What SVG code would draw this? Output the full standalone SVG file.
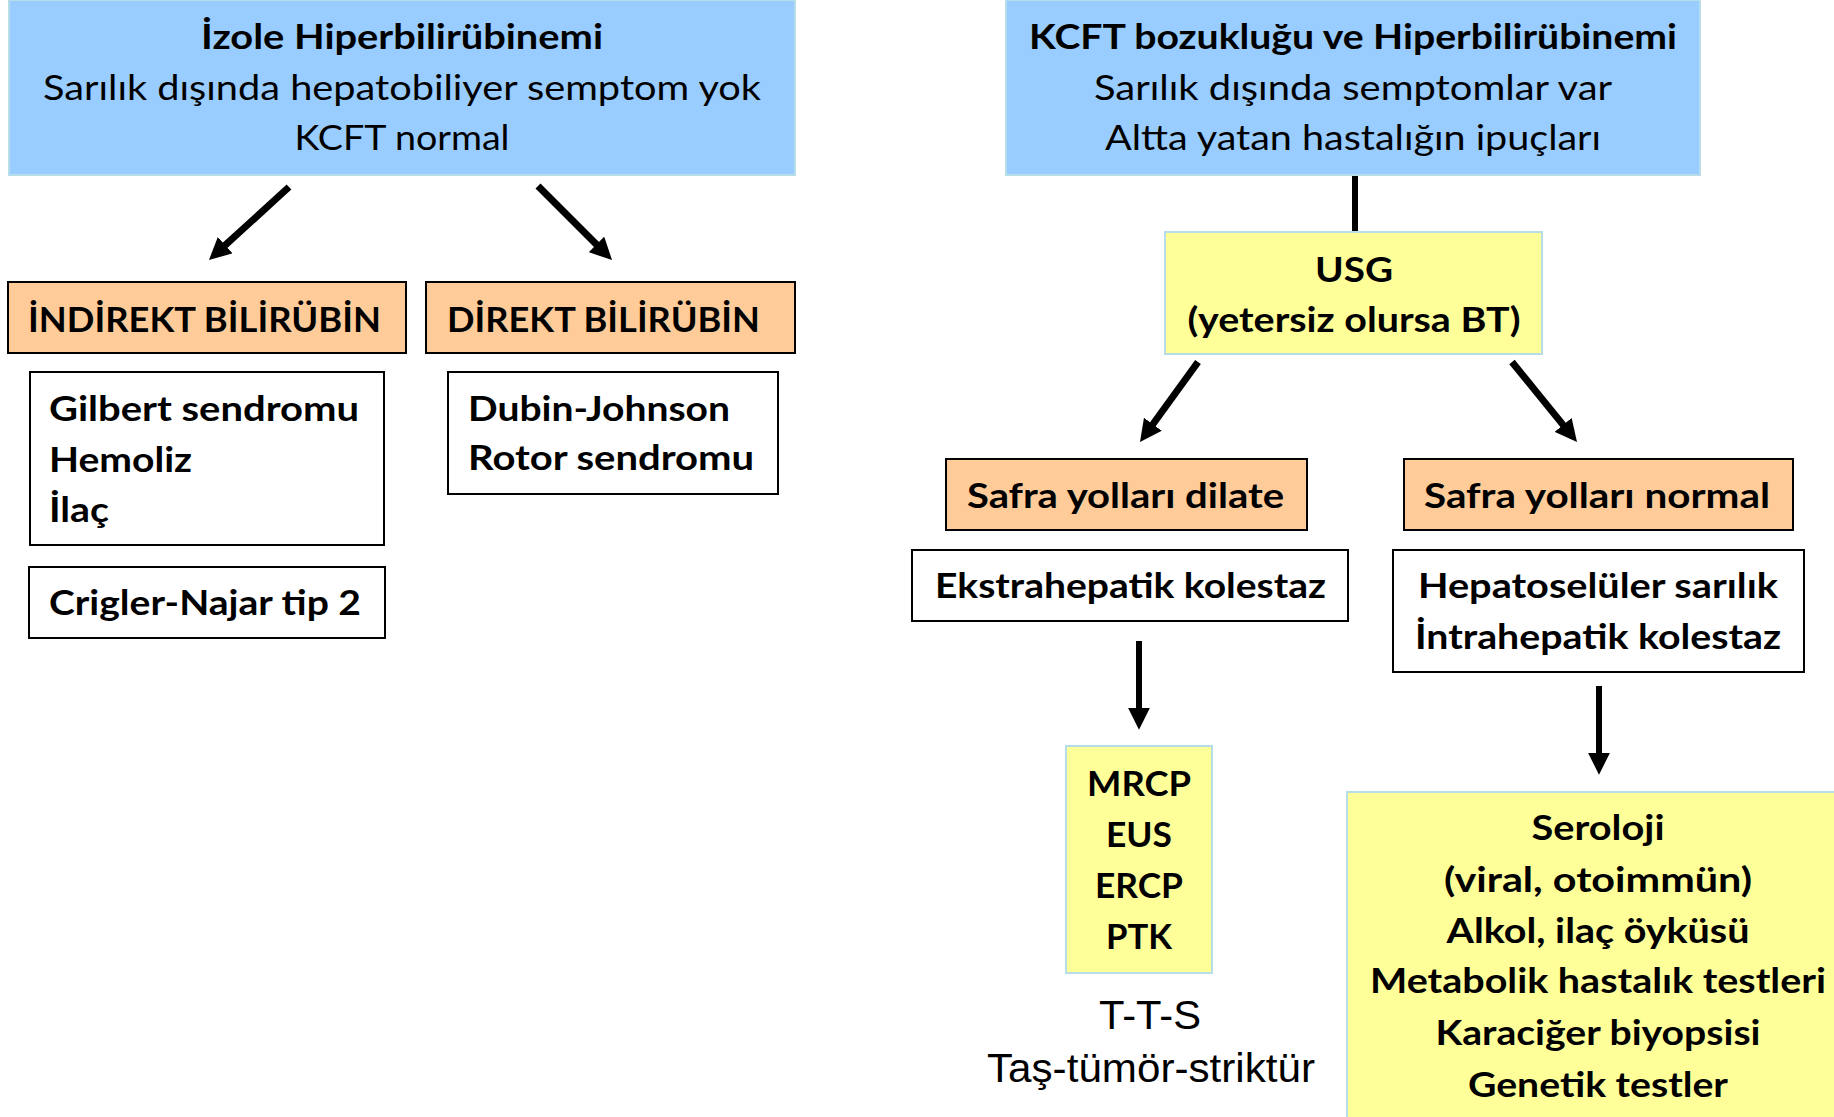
<svg xmlns="http://www.w3.org/2000/svg" width="1834" height="1117" viewBox="0 0 1834 1117">
<style>
.t{font-family:Lato,"Open Sans","Noto Sans",sans-serif;font-size:34px;fill:#000}
.b{font-weight:bold}
.c{text-anchor:middle}
.blue{fill:#99CCFF;stroke:#B7DDE8;stroke-width:2}
.peach{fill:#FFCC99;stroke:#000;stroke-width:2}
.white{fill:#fff;stroke:#000;stroke-width:2}
.yel{fill:#FFFF99;stroke:#B7DDE8;stroke-width:2}
.ar{stroke:#000;stroke-width:7;fill:none;marker-end:url(#ah)}
.ar2{stroke:#000;stroke-width:6;fill:none;marker-end:url(#ah)}
.a{font-family:"Liberation Sans",Arial,sans-serif;font-size:40px;fill:#000;text-anchor:middle}
</style>
<defs>
<marker id="ah" viewBox="0 0 10 10" markerWidth="22" markerHeight="22" markerUnits="userSpaceOnUse" refX="1" refY="5" orient="auto">
<path d="M0,0 L10,5 L0,10 z" fill="#000"/>
</marker>
</defs>
<g id="connectors">
<line class="ar" x1="289" y1="187" x2="223.6" y2="246.7"/>
<line class="ar" x1="538" y1="186" x2="598" y2="246"/>
<line x1="1355" y1="175" x2="1355" y2="232" stroke="#000" stroke-width="6"/>
<line class="ar" x1="1198" y1="362" x2="1151.6" y2="426"/>
<line class="ar" x1="1512" y1="362" x2="1564.5" y2="426.6"/>
<line class="ar2" x1="1139" y1="641" x2="1139" y2="710"/>
<line class="ar2" x1="1599" y1="686" x2="1599" y2="755"/>
</g>
<g id="izole">
<rect class="blue" x="9" y="0" width="786" height="175"/>
<text class="t b c" x="402" y="49" textLength="402" lengthAdjust="spacingAndGlyphs">İzole Hiperbilirübinemi</text>
<text class="t c" x="402" y="100" textLength="718" lengthAdjust="spacingAndGlyphs">Sarılık dışında hepatobiliyer semptom yok</text>
<text class="t c" x="402" y="150" textLength="215" lengthAdjust="spacingAndGlyphs">KCFT normal</text>
</g>
<g id="indirekt">
<rect class="peach" x="8" y="282" width="398" height="71"/>
<text class="t b" x="28" y="332" textLength="353" lengthAdjust="spacingAndGlyphs">İNDİREKT BİLİRÜBİN</text>
</g>
<g id="direkt">
<rect class="peach" x="426" y="282" width="369" height="71"/>
<text class="t b" x="447" y="332" textLength="313" lengthAdjust="spacingAndGlyphs">DİREKT BİLİRÜBİN</text>
</g>
<g id="gilbert">
<rect class="white" x="30" y="372" width="354" height="173"/>
<text class="t b" x="49" y="421" textLength="310" lengthAdjust="spacingAndGlyphs">Gilbert sendromu</text>
<text class="t b" x="49" y="472" textLength="143" lengthAdjust="spacingAndGlyphs">Hemoliz</text>
<text class="t b" x="49" y="522" textLength="60" lengthAdjust="spacingAndGlyphs">İlaç</text>
</g>
<g id="crigler">
<rect class="white" x="29" y="567" width="356" height="71"/>
<text class="t b" x="49" y="615" textLength="312" lengthAdjust="spacingAndGlyphs">Crigler-Najar tip 2</text>
</g>
<g id="dubin">
<rect class="white" x="448" y="372" width="330" height="122"/>
<text class="t b" x="468" y="421" textLength="262" lengthAdjust="spacingAndGlyphs">Dubin-Johnson</text>
<text class="t b" x="468" y="470" textLength="286" lengthAdjust="spacingAndGlyphs">Rotor sendromu</text>
</g>
<g id="kcft">
<rect class="blue" x="1006" y="0" width="694" height="175"/>
<text class="t b c" x="1353" y="49" textLength="648" lengthAdjust="spacingAndGlyphs">KCFT bozukluğu ve Hiperbilirübinemi</text>
<text class="t c" x="1353" y="100" textLength="518" lengthAdjust="spacingAndGlyphs">Sarılık dışında semptomlar var</text>
<text class="t c" x="1353" y="150" textLength="496" lengthAdjust="spacingAndGlyphs">Altta yatan hastalığın ipuçları</text>
</g>
<g id="usg">
<rect class="yel" x="1165" y="232" width="377" height="122"/>
<text class="t b c" x="1354" y="282" textLength="78" lengthAdjust="spacingAndGlyphs">USG</text>
<text class="t b c" x="1354" y="332" textLength="333" lengthAdjust="spacingAndGlyphs">(yetersiz olursa BT)</text>
</g>
<g id="dilate">
<rect class="peach" x="946" y="459" width="361" height="71"/>
<text class="t b" x="967" y="508" textLength="317" lengthAdjust="spacingAndGlyphs">Safra yolları dilate</text>
</g>
<g id="normal">
<rect class="peach" x="1404" y="459" width="389" height="71"/>
<text class="t b" x="1424" y="508" textLength="346" lengthAdjust="spacingAndGlyphs">Safra yolları normal</text>
</g>
<g id="ekstra">
<rect class="white" x="912" y="550" width="436" height="71"/>
<text class="t b" x="935" y="598" textLength="391" lengthAdjust="spacingAndGlyphs">Ekstrahepatik kolestaz</text>
</g>
<g id="hepato">
<rect class="white" x="1393" y="550" width="411" height="122"/>
<text class="t b c" x="1598" y="598" textLength="360" lengthAdjust="spacingAndGlyphs">Hepatoselüler sarılık</text>
<text class="t b c" x="1598" y="649" textLength="366" lengthAdjust="spacingAndGlyphs">İntrahepatik kolestaz</text>
</g>
<g id="mrcp">
<rect class="yel" x="1066" y="746" width="146" height="227"/>
<text class="t b c" x="1139" y="796" textLength="104" lengthAdjust="spacingAndGlyphs">MRCP</text>
<text class="t b c" x="1139" y="847" textLength="66" lengthAdjust="spacingAndGlyphs">EUS</text>
<text class="t b c" x="1139" y="898" textLength="88" lengthAdjust="spacingAndGlyphs">ERCP</text>
<text class="t b c" x="1139" y="949" textLength="66" lengthAdjust="spacingAndGlyphs">PTK</text>
</g>
<g id="tts">
<text class="a" x="1150" y="1029" textLength="102" lengthAdjust="spacingAndGlyphs">T-T-S</text>
<text class="a" x="1151" y="1082" textLength="328" lengthAdjust="spacingAndGlyphs">Taş-tümör-striktür</text>
</g>
<g id="seroloji">
<rect class="yel" x="1347" y="792" width="500" height="340"/>
<text class="t b c" x="1598" y="840" textLength="133" lengthAdjust="spacingAndGlyphs">Seroloji</text>
<text class="t b c" x="1598" y="892" textLength="308" lengthAdjust="spacingAndGlyphs">(viral, otoimmün)</text>
<text class="t b c" x="1598" y="943" textLength="303" lengthAdjust="spacingAndGlyphs">Alkol, ilaç öyküsü</text>
<text class="t b c" x="1598" y="993" textLength="456" lengthAdjust="spacingAndGlyphs">Metabolik hastalık testleri</text>
<text class="t b c" x="1598" y="1045" textLength="325" lengthAdjust="spacingAndGlyphs">Karaciğer biyopsisi</text>
<text class="t b c" x="1598" y="1097" textLength="260" lengthAdjust="spacingAndGlyphs">Genetik testler</text>
</g>
</svg>
